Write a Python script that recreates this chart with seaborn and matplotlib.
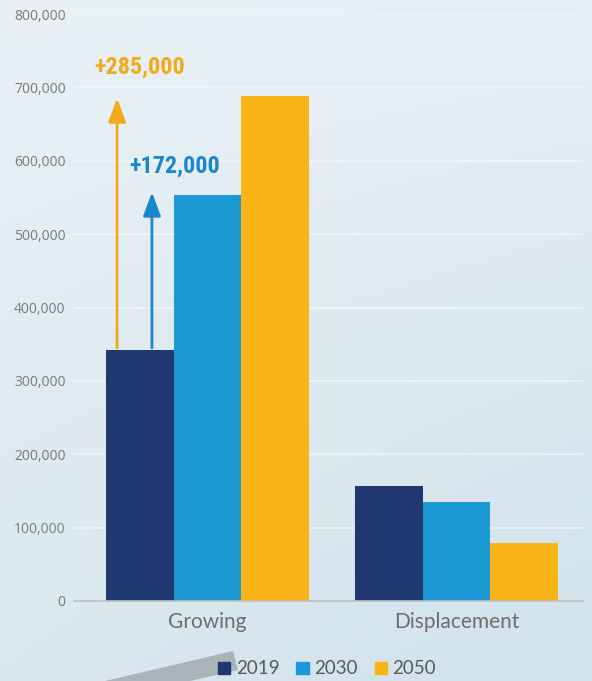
import numpy as np
import pandas as pd
import matplotlib
matplotlib.use("Agg")
import matplotlib.pyplot as plt
import seaborn as sns
from matplotlib.patches import Polygon, Patch
from matplotlib import font_manager as fm

categories = ["Growing", "Displacement"]
years = ["2019", "2030", "2050"]
values_2019 = [342000, 157000]
values_2030 = [553000, 135000]
values_2050 = [688000, 79000]
colors = ["#1F3870", "#1B9AD6", "#FAB418"]
yticks = [0, 100000, 200000, 300000, 400000, 500000, 600000, 700000, 800000]
ann_labels = ["+285,000", "+172,000"]
ann_colors = ["#F2AA1A", "#1A87CC"]

df = pd.DataFrame({
    "category": categories * 3,
    "year": sum([[y] * len(categories) for y in years], []),
    "value": values_2019 + values_2030 + values_2050,
})

sns.set_theme(style="white")
plt.rcParams["font.family"] = ["Open Sans", "DejaVu Sans"]

names = {f.name for f in fm.fontManager.ttflist}
narrow = None
for cand in ["Roboto Condensed", "Liberation Sans Narrow", "DejaVu Sans Condensed"]:
    if cand in names:
        narrow = cand
        break

W, H = 592, 681
fig = plt.figure(figsize=(W / 100, H / 100), dpi=100)

# background gradient
bg = fig.add_axes([0, 0, 1, 1], zorder=0)
xx, yy = np.meshgrid(np.linspace(0, 1, 200), np.linspace(0, 1, 200))
top = np.array([233, 241, 245]) / 255
bot = np.array([210, 227, 236]) / 255
t = np.clip(0.65 * yy + 0.35 * xx * yy + 0.1 * xx, 0, 1)[..., None]
img = top * (1 - t) + bot * t
bg.imshow(img, extent=[0, W, H, 0], aspect="auto")
bg.add_patch(Polygon([[105, 681], [233, 651], [238, 670], [190, 681]],
                     closed=True, color="#A9B3B8", lw=0))
bg.set_xlim(0, W)
bg.set_ylim(H, 0)
bg.axis("off")

ax = fig.add_axes([74 / W, 1 - 601 / H, (583 - 74) / W, (601 - 14) / H], zorder=1)
ax.patch.set_alpha(0)
sns.barplot(data=df, x="category", y="value", hue="year", palette=colors,
            width=0.815, saturation=1, ax=ax, legend=False, errorbar=None,
            linewidth=0, edgecolor="none")
ax.set_xlim(-0.536, 1.508)
ax.set_ylim(0, 800000)
ax.set_yticks(yticks)
ax.set_yticklabels([f"{v:,}" for v in yticks], color="#7A7A7A", fontsize=10)
ax.set_xticks(range(len(categories)))
ax.set_xticklabels(categories, family=["Lato", "DejaVu Sans"], fontsize=15,
                   color="#6E6E6E")
ax.tick_params(axis="x", length=0, pad=8)
ax.tick_params(axis="y", length=0, pad=6)
ax.grid(axis="y", color="#F4F7F9", lw=1.2, alpha=0.8)
ax.set_axisbelow(True)
for s in ["top", "right", "left"]:
    ax.spines[s].set_visible(False)
ax.spines["bottom"].set_color("#BFBFBF")
ax.spines["bottom"].set_linewidth(1.2)
ax.set_xlabel("")
ax.set_ylabel("")

# arrows
ax.annotate("", xy=(-0.363, 685000), xytext=(-0.363, 345000),
            arrowprops=dict(arrowstyle="-|>,head_length=1.2,head_width=0.45",
                            color=ann_colors[0], lw=2, shrinkA=0, shrinkB=0))
ax.annotate("", xy=(-0.223, 557000), xytext=(-0.223, 345000),
            arrowprops=dict(arrowstyle="-|>,head_length=1.2,head_width=0.45",
                            color=ann_colors[1], lw=2, shrinkA=0, shrinkB=0))
fam = [narrow, "DejaVu Sans"] if narrow else ["DejaVu Sans"]
for lbl, c, x, y in zip(ann_labels, ann_colors, [-0.271, -0.13], [727500, 592600]):
    ax.text(x, y, lbl, color=c, fontsize=17.5, fontweight="bold",
            fontstretch="condensed", family=fam, ha="center", va="center")

handles = [Patch(color=c, label=y) for c, y in zip(colors, years)]
fig.legend(handles=handles, loc="center", bbox_to_anchor=(327 / W, 1 - 669 / H),
           ncol=3, frameon=False, handlelength=0.65, handleheight=0.65,
           handletextpad=0.3, columnspacing=0.9, labelcolor="#595959",
           prop={"family": ["Lato", "DejaVu Sans"], "size": 13.5})

fig.savefig("out.png", dpi=100)
